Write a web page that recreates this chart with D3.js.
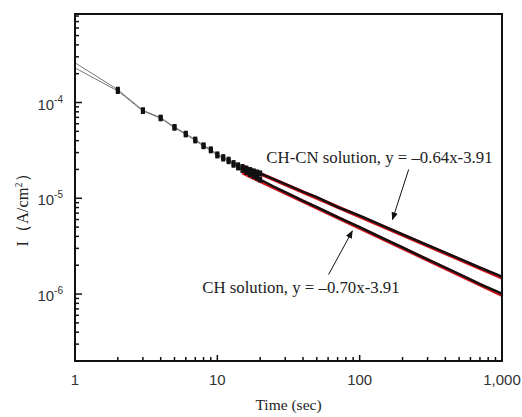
<!DOCTYPE html>
<html>
<head>
<meta charset="utf-8">
<script src="https://cdn.jsdelivr.net/npm/d3@7"></script>
<style>
  body { margin: 0; background: #fff; }
  svg { display: block; }
</style>
</head>
<body>
<div id="chart"></div>
<script>
// temps (s) et courants
const times = [1, 2, 3, 4, 5, 6, 7, 8, 9, 10, 11, 12, 13, 14, 15, 16, 17, 18, 19, 20,
  25, 30, 40, 50, 70, 100, 150, 200, 300, 500, 700, 1000];
const chcnValues = [2.6e-4, 1.36e-4, 8.3e-5, 6.95e-5, 5.55e-5, 4.72e-5, 4.1e-5, 3.57e-5, 3.24e-5, 2.87e-5,
  2.69e-5, 2.53e-5, 2.33e-5, 2.21e-5, 2.12e-5, 2.04e-5, 1.97e-5, 1.91e-5, 1.86e-5, 1.82e-5,
  1.58e-5, 1.41e-5, 1.17e-5, 1.03e-5, 8.1e-6, 6.6e-6, 5.05e-6, 4.2e-6, 3.25e-6, 2.35e-6, 1.89e-6, 1.52e-6];
const chValues = [2.3e-4, 1.32e-4, 8.15e-5, 6.85e-5, 5.45e-5, 4.65e-5, 4.02e-5, 3.5e-5, 3.17e-5, 2.8e-5,
  2.6e-5, 2.44e-5, 2.24e-5, 2.1e-5, 1.98e-5, 1.88e-5, 1.79e-5, 1.71e-5, 1.64e-5, 1.57e-5,
  1.32e-5, 1.16e-5, 9.4e-6, 8.1e-6, 6.35e-6, 5.0e-6, 3.75e-6, 3.07e-6, 2.3e-6, 1.62e-6, 1.27e-6, 1.01e-6];

// droites d'ajustement (log I = a log t + b)
const fitNames = ["CH-CN solution", "CH solution"];
const fitSlopes = [-0.64, -0.70];
const fitIntercepts = [-3.91, -3.91];
const fitRange = [15, 1000];

const xTickLabels = ["1", "10", "100", "1,000"];
const yMajorExp = [-6, -5, -4];

const width = 522, height = 417;
const margin = { top: 14, right: 20, bottom: 56, left: 75 };
const iw = width - margin.left - margin.right;
const ih = height - margin.top - margin.bottom;

const svg = d3.select("#chart").append("svg")
  .attr("width", width).attr("height", height);
const g = svg.append("g").attr("transform", `translate(${margin.left},${margin.top})`);

const x = d3.scaleLog().domain([1, 1000]).range([0, iw]);
const y = d3.scaleLog().domain([2e-7, 8.4e-4]).range([ih, 0]);

const series = [chcnValues, chValues].map(vals => times.map((t, i) => ({ t, v: vals[i] })));

// lignes grises fines
const line = d3.line().x(d => x(d.t)).y(d => y(d.v));
series.forEach(s => {
  g.append("path").attr("d", line(s))
    .attr("fill", "none").attr("stroke", "#777").attr("stroke-width", 1);
});

// ajustements en rouge
fitSlopes.forEach((a, i) => {
  const pts = fitRange.map(t => ({ t, v: Math.pow(10, a * Math.log10(t) + fitIntercepts[i]) }));
  g.append("path").attr("d", line(pts))
    .attr("fill", "none").attr("stroke", "#d0141c").attr("stroke-width", 3.6);
});

// mesures denses -> trait noir épais
series.forEach(s => {
  g.append("path").attr("d", line(s.filter(d => d.t >= 15)))
    .attr("fill", "none").attr("stroke", "#111").attr("stroke-width", 2.4);
});

// marqueurs carrés
series.forEach(s => {
  g.selectAll(null).data(s.filter(d => d.t >= 2 && d.t <= 20)).enter()
    .append("rect")
    .attr("x", d => x(d.t) - 2).attr("y", d => y(d.v) - 3)
    .attr("width", 4).attr("height", 6)
    .attr("fill", "#111");
});

// cadre
g.append("rect").attr("width", iw).attr("height", ih)
  .attr("fill", "none").attr("stroke", "#111").attr("stroke-width", 2);

// graduations axe X (vers l'intérieur)
const xTicks = x.ticks();
g.selectAll(".xt").data(xTicks).enter().append("line")
  .attr("x1", d => x(d)).attr("x2", d => x(d))
  .attr("y1", ih).attr("y2", d => ih - (Math.log10(d) % 1 === 0 ? 6 : 4))
  .attr("stroke", "#111").attr("stroke-width", 1.5);
g.selectAll(".xl").data([1, 10, 100, 1000]).enter().append("text")
  .attr("x", d => x(d)).attr("y", ih + 24)
  .attr("text-anchor", "middle")
  .attr("font-family", "Liberation Sans, Arial, sans-serif").attr("font-size", 15)
  .attr("fill", "#333")
  .text((d, i) => xTickLabels[i]);

// graduations axe Y
const yTicks = y.ticks();
g.selectAll(".yt").data(yTicks).enter().append("line")
  .attr("x1", 0).attr("x2", d => (Math.abs(Math.log10(d) - Math.round(Math.log10(d))) < 1e-9 ? 7 : 4))
  .attr("y1", d => y(d)).attr("y2", d => y(d))
  .attr("stroke", "#111").attr("stroke-width", 1.5);
const yl = g.selectAll(".yl").data(yMajorExp).enter().append("text")
  .attr("x", -12).attr("y", d => y(Math.pow(10, d)) + 7)
  .attr("text-anchor", "end")
  .attr("font-family", "Liberation Sans, Arial, sans-serif").attr("font-size", 15)
  .attr("fill", "#333");
yl.append("tspan").text("10");
yl.append("tspan").attr("dy", -7).attr("font-size", 10).text(d => String(d));

// titres
svg.append("text")
  .attr("x", margin.left + iw / 2).attr("y", 410)
  .attr("text-anchor", "middle")
  .attr("font-family", "Liberation Serif, Times New Roman, serif").attr("font-size", 15.5)
  .attr("fill", "#222")
  .text("Time (sec)");
const yt = svg.append("text")
  .attr("transform", "translate(28,206) rotate(-90)")
  .attr("text-anchor", "middle")
  .attr("font-family", "Liberation Serif, Times New Roman, serif").attr("font-size", 16.5)
  .attr("fill", "#222");
yt.append("tspan").text("I（A/cm");
yt.append("tspan").attr("dy", -6).attr("font-size", 10).text("2");
yt.append("tspan").attr("dy", 6).text("）");

// annotations
const annot = [
  { text: `${fitNames[0]}, y = –0.64x-3.91`, tx: 22.1, ty: 2.33e-5, from: [221, 2.0e-5], to: [170, 6.0e-6] },
  { text: `${fitNames[1]}, y = –0.70x-3.91`, tx: 7.84, ty: 1.03e-6, from: [60.5, 1.6e-6], to: [88.8, 4.55e-6] }
];
const defs = svg.append("defs");
defs.append("marker").attr("id", "arr").attr("viewBox", "0 0 10 10")
  .attr("refX", 9).attr("refY", 5).attr("markerWidth", 8).attr("markerHeight", 8)
  .attr("markerUnits", "userSpaceOnUse")
  .attr("orient", "auto")
  .append("path").attr("d", "M0,1L10,5L0,9z").attr("fill", "#111");
annot.forEach(a => {
  g.append("text").attr("x", x(a.tx)).attr("y", y(a.ty))
    .attr("font-family", "Liberation Serif, Times New Roman, serif").attr("font-size", 16.8)
    .attr("fill", "#222").text(a.text);
  g.append("line")
    .attr("x1", x(a.from[0])).attr("y1", y(a.from[1]))
    .attr("x2", x(a.to[0])).attr("y2", y(a.to[1]))
    .attr("stroke", "#111").attr("stroke-width", 1)
    .attr("marker-end", "url(#arr)");
});
</script>
</body>
</html>
